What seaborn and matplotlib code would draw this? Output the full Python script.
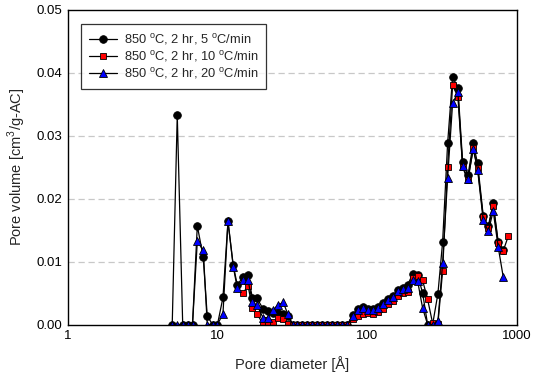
import numpy as np
import pandas as pd
import matplotlib
matplotlib.use("Agg")
import matplotlib.pyplot as plt
import seaborn as sns
from matplotlib.ticker import FixedLocator, FixedFormatter, LogLocator, NullFormatter

# ---- data ----
diameter = [4.97, 5.37, 5.84, 6.36, 6.79, 7.31, 8.01, 8.52, 9.26, 9.97,
            10.85, 11.72, 12.71, 13.52, 14.83, 15.94, 17.08, 18.30, 20.07, 21.58,
            23.41, 25.28, 27.43, 29.49, 31.70, 34.13, 36.74, 39.67, 42.84, 46.27,
            49.99, 53.96, 58.29, 62.94, 67.98, 73.64, 79.75, 86.13, 93.03, 100.5,
            108.5, 117.2, 127.1, 137.3, 148.3, 160.1, 172.2, 185.9, 200.7, 216.8,
            234.1, 252.8, 273.0, 296.2, 318.4, 343.9, 371.3, 402.9, 433.2, 469.9,
            509.9, 545.6, 594.6, 642.2, 693.5, 748.9, 808.7, 873.4]

nan = np.nan
rate5 = [0, 0.0333, 0, 0, 0, 0.0157, 0.0107, 0.0013, 0, 0,
         0.0043, 0.0164, 0.0094, 0.0063, 0.0076, 0.0078, 0.0042, 0.0042, 0.0025, 0.0021,
         0.0018, 0.0019, 0.0017, 0.0013, 0, 0, 0, 0, 0, 0,
         0, 0, 0, 0, 0, 0, 0.0015, 0.0025, 0.0028, 0.0025,
         0.0025, 0.0028, 0.0034, 0.0041, 0.0046, 0.0055, 0.0058, 0.0063, 0.0080, 0.0079,
         0.0050, 0, 0, 0.0049, 0.0131, 0.0288, 0.0394, 0.0376, 0.0259, 0.0237,
         0.0288, 0.0256, 0.0173, 0.0156, 0.0193, 0.0131, 0.0119, nan]

rate10 = [nan, nan, nan, nan, nan, nan, nan, nan, nan, nan,
          nan, nan, nan, nan, 0.0050, 0.0062, 0.0026, 0.0017, 0.0001, 0.0001,
          0.0004, 0.0011, 0.0008, 0.0001, 0, 0, 0, 0, 0, 0,
          0, 0, 0, 0, 0, 0, 0.0008, 0.0014, 0.0017, 0.0018,
          0.0017, 0.0020, 0.0025, 0.0032, 0.0038, 0.0046, 0.0050, 0.0052, 0.0074, 0.0077,
          0.0070, 0.0040, 0.0002, 0.0001, 0.0085, 0.0251, 0.0380, 0.0362, 0.0250, 0.0229,
          0.0280, 0.0249, 0.0171, 0.0153, 0.0189, 0.0130, 0.0117, 0.0140]

rate20 = [0, 0, 0, 0, 0, 0.0132, 0.0118, 0, 0, 0,
          0.0017, 0.0164, 0.0092, 0.0058, 0.0071, 0.0071, 0.0035, 0.0031, 0.0011, 0.0011,
          0.0023, 0.0031, 0.0035, 0.0016, 0, 0, 0, 0, 0, 0,
          0, 0, 0, 0, 0, 0, 0.0013, 0.0023, 0.0026, 0.0023,
          0.0023, 0.0026, 0.0032, 0.0039, 0.0044, 0.0053, 0.0056, 0.0058, 0.0071, 0.0069,
          0.0026, 0, 0, 0.0005, 0.0097, 0.0233, 0.0352, 0.0369, 0.0252, 0.0231,
          0.0279, 0.0246, 0.0166, 0.0148, 0.0180, 0.0123, 0.0076, nan]

labels = [r"850 $^\mathregular{o}$C, 2 hr, 5 $^\mathregular{o}$C/min",
          r"850 $^\mathregular{o}$C, 2 hr, 10 $^\mathregular{o}$C/min",
          r"850 $^\mathregular{o}$C, 2 hr, 20 $^\mathregular{o}$C/min"]
x_ticks = [1, 10, 100, 1000]
x_ticklabels = ["1", "10", "100", "1000"]
y_ticks = [0.00, 0.01, 0.02, 0.03, 0.04, 0.05]

# ---- plotting ----
sns.set_theme(style="white")
plt.rcParams["font.family"] = ["Liberation Sans", "DejaVu Sans"]
plt.rcParams["mathtext.fontset"] = "custom"
plt.rcParams["mathtext.rm"] = "Liberation Sans"

fig = plt.figure(figsize=(5.39, 3.77), dpi=100)
ax = fig.add_axes([68 / 539, 1 - 324.5 / 377, 449 / 539, 314.5 / 377])

styles = [("o", "black", 5.5), ("s", "red", 5.0), ("^", "blue", 5.5)]
for vals, lab, (mk, fc, ms) in zip([rate5, rate10, rate20], labels, styles):
    df = pd.DataFrame({"d": diameter, "v": vals}).dropna()
    sns.lineplot(data=df, x="d", y="v", ax=ax, color="black", linewidth=0.9,
                 marker=mk, markersize=ms, markerfacecolor=fc,
                 markeredgecolor="black", markeredgewidth=0.6,
                 label=lab, errorbar=None, sort=True)

ax.set_xscale("log")
ax.set_xlim(1, 1000)
ax.set_ylim(0, 0.05)
ax.xaxis.set_major_locator(FixedLocator(x_ticks))
ax.xaxis.set_major_formatter(FixedFormatter(x_ticklabels))
ax.xaxis.set_minor_locator(LogLocator(base=10, subs=np.arange(2, 10)))
ax.xaxis.set_minor_formatter(NullFormatter())
ax.set_yticks(y_ticks)
ax.set_yticklabels([f"{t:.2f}" for t in y_ticks])

ax.tick_params(axis="both", which="major", direction="in", length=4, width=0.8,
               labelsize=9.5, colors="black", pad=4)
ax.tick_params(axis="x", which="minor", direction="in", length=2.5, width=0.7)
ax.tick_params(axis="x", which="both", top=False)
ax.tick_params(axis="y", which="both", right=False)

for yv in [0.01, 0.02, 0.03, 0.04]:
    ax.axhline(yv, color="#c8c8c8", linewidth=0.9, linestyle=(0, (5, 3)), zorder=0)

for s in ax.spines.values():
    s.set_color("black")
    s.set_linewidth(1.0)
    s.set_visible(True)

ax.set_xlabel("Pore diameter [Å]", fontsize=10.5, labelpad=10)
ax.set_ylabel(r"Pore volume [cm$^\mathregular{3}$/g-AC]", fontsize=10.5, labelpad=6)

leg = ax.legend(loc="upper left", bbox_to_anchor=(0.029, 0.955), fontsize=9.3,
                frameon=True, fancybox=False, shadow=False, borderpad=0.6,
                handlelength=2.2, handletextpad=0.5, labelspacing=0.15,
                borderaxespad=0)
leg.get_frame().set_edgecolor("black")
leg.get_frame().set_linewidth(0.9)

fig.savefig("out.png", dpi=100)
